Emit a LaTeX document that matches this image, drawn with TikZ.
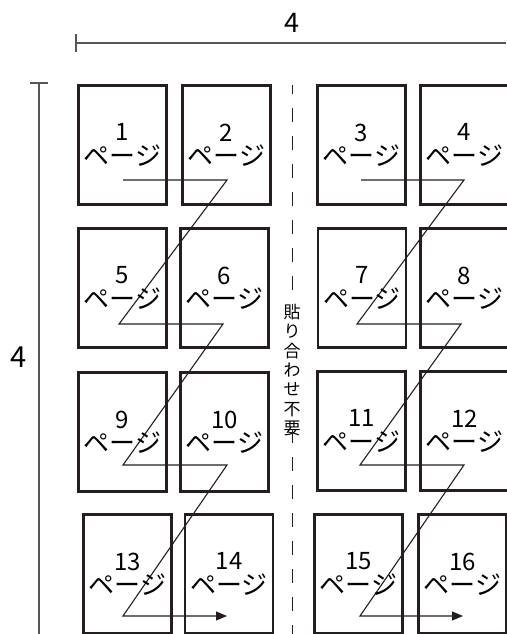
\documentclass[tikz,border=0pt]{standalone}
\usepackage{fontspec}
\setmainfont{Noto Sans CJK JP}
\usetikzlibrary{arrows.meta}

\begin{document}
\begin{tikzpicture}[x=1pt, y=-1pt, >={Triangle[length=11pt, width=9pt]},
		page/.style={draw=pageline, line width=2.6pt, minimum width=88pt, minimum height=119pt, inner sep=0pt, align=center, font=\fontsize{26}{24.5}\selectfont},
		dimline/.style={dimgray, line width=1.1pt},
		order/.style={pageline, line width=1.1pt}]
	\definecolor{pageline}{RGB}{35,31,32}
	\definecolor{dimgray}{RGB}{85,85,85}
	\useasboundingbox (0,0) rectangle (506,634);
	% dimensions
	\coordinate (wl) at (76,43);
	\coordinate (wr) at (506,43);
	\coordinate (ht) at (39,83);
	\coordinate (hb) at (39,634);
	\draw[dimline] (wl) -- (wr);
	\draw[dimline] ([yshift=-9pt]wl) -- ([yshift=9pt]wl);
	\draw[dimline] (ht) -- (hb);
	\draw[dimline] ([xshift=-9pt]ht) -- ([xshift=9pt]ht);
	\node[font=\fontsize{27}{27}\selectfont, inner sep=0pt] (wlabel) at (292,23) {4};
	\node[font=\fontsize{29}{29}\selectfont, inner sep=0pt] (hlabel) at (19,357) {4};
	% fold line
	\coordinate (foldtop) at (292,85);
	\coordinate (foldbot) at (292,634);
	\node[align=center, inner sep=0pt, font=\fontsize{17}{19.4}\selectfont] (note) at (292,370) {貼\\り\\合\\わ\\せ\\不\\要};
	\draw[pageline, line width=1pt, dash pattern=on 14pt off 14pt, dash phase=5pt] (foldtop) -- ([yshift=-6pt]note.north);
	\draw[pageline, line width=1pt, dash pattern=on 14pt off 14pt] ([yshift=7pt]note.south) -- (foldbot);
	% reading order
	\coordinate (a1) at (123,180); \coordinate (b1) at (227,180);
	\coordinate (a2) at (119,324); \coordinate (b2) at (223,324);
	\coordinate (a3) at (123,465); \coordinate (b3) at (227,465);
	\coordinate (a4) at (123,616); \coordinate (b4) at (227,616);
	\coordinate (c1) at (361,180); \coordinate (d1) at (464,180);
	\coordinate (c2) at (357,324); \coordinate (d2) at (461,324);
	\coordinate (c3) at (360,465); \coordinate (d3) at (464,465);
	\coordinate (c4) at (360,616); \coordinate (d4) at (463,616);
	\draw[order, ->] (a1) -- (b1) -- (a2) -- (b2) -- (a3) -- (b3) -- (a4) -- (b4);
	\draw[order, ->] (c1) -- (d1) -- (c2) -- (d2) -- (c3) -- (d3) -- (c4) -- (d4);
	% pages
	\foreach \n/\x/\y in {1/122.5/145, 2/226.5/145, 3/361.5/145, 4/464.5/145,
			5/122.5/288, 6/224.5/288, 7/362/288, 8/464.5/288,
			9/122.5/432, 10/224.5/432, 11/361.5/431, 12/464.5/431,
			13/127.5/574, 14/229/574, 15/358.5/574, 16/462.5/574}
		\node[page] (p\n) at (\x,\y) {{\fontsize{24}{24}\selectfont\n}\\ページ};
\end{tikzpicture}
\end{document}
